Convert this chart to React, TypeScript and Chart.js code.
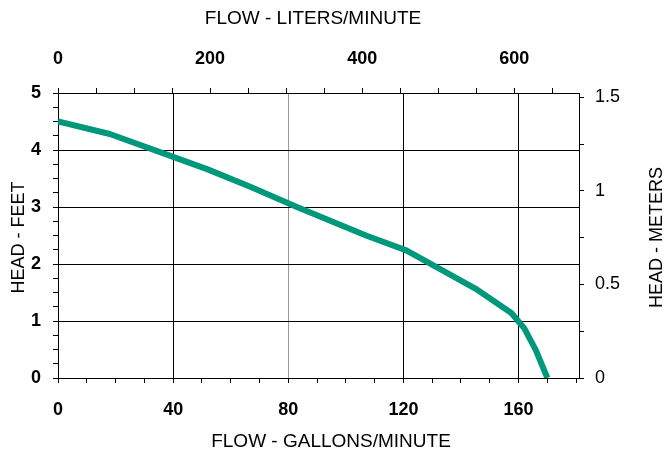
import React, { useEffect, useRef } from "react";
import { Chart, registerables } from "chart.js";

Chart.register(...registerables);

// Pump curve data (flow in US gallons per minute, head in feet)
const flowGpm = [0, 18, 40, 52, 67, 83, 107, 121, 145, 157.5, 162, 166, 170];
const headFt = [4.5, 4.28, 3.88, 3.66, 3.35, 3.0, 2.5, 2.24, 1.57, 1.14, 0.87, 0.49, 0];

const gpmMax = 181;
const feetMax = 5;
const litersPerGallon = 3.78541;
const metersPerFoot = 0.3048;

const bottomTitle = "FLOW - GALLONS/MINUTE";
const topTitle = "FLOW - LITERS/MINUTE";
const leftTitle = "HEAD - FEET";
const rightTitle = "HEAD - METERS";

const FONT = "'Liberation Sans', Arial, sans-serif";

const titlePlugin = {
  id: "axisTitles",
  afterDraw(chart: any) {
    const { ctx, chartArea } = chart;
    const midY = (chartArea.top + chartArea.bottom) / 2;
    ctx.save();
    ctx.fillStyle = "#000";
    ctx.textAlign = "center";
    ctx.textBaseline = "middle";
    ctx.font = `19px ${FONT}`;
    ctx.fillText(topTitle, 313, 18.5);
    ctx.fillText(bottomTitle, 331, 441.5);
    ctx.font = `18px ${FONT}`;
    ctx.save();
    ctx.translate(19, midY + 2);
    ctx.rotate(-Math.PI / 2);
    ctx.fillText(leftTitle, 0, 0);
    ctx.restore();
    ctx.save();
    ctx.translate(657, midY + 2);
    ctx.rotate(-Math.PI / 2);
    ctx.fillText(rightTitle, 0, 0);
    ctx.restore();
    ctx.restore();
  },
};

export default function App() {
  const ref = useRef<HTMLCanvasElement | null>(null);

  useEffect(() => {
    if (!ref.current) return;
    const points = flowGpm.map((x, i) => ({ x, y: headFt[i] }));
    const boldTick = { family: FONT, size: 18, weight: "bold" as const };
    const chart = new Chart(ref.current, {
      type: "line",
      data: {
        datasets: [
          {
            data: points,
            borderColor: "#00987a",
            borderWidth: 6,
            pointRadius: 0,
            tension: 0,
            borderJoinStyle: "round",
            xAxisID: "x",
            yAxisID: "y",
          },
        ],
      },
      options: {
        animation: false,
        responsive: false,
        events: [],
        layout: { padding: 0 },
        plugins: {
          legend: { display: false },
          tooltip: { enabled: false },
        },
        scales: {
          x: {
            type: "linear",
            position: "bottom",
            min: 0,
            max: gpmMax,
            afterFit: (s: any) => {
              s.height = 74;
            },
            border: { display: true, color: "#000", width: 1 },
            grid: {
              color: (c: any) => {
                const v = c.tick?.value;
                if (v === 80) return "#9a9a9a";
                return v % 40 === 0 ? "#000" : "rgba(0,0,0,0)";
              },
              tickColor: "#000",
              tickLength: 5,
              lineWidth: 1,
            },
            ticks: {
              stepSize: 10,
              includeBounds: false,
              autoSkip: false,
              maxRotation: 0,
              padding: 16,
              color: "#000",
              font: boldTick,
              callback: (v: any) => (Number(v) % 40 === 0 ? String(v) : ""),
            },
          },
          x2: {
            type: "linear",
            position: "top",
            min: 0,
            max: gpmMax * litersPerGallon,
            afterFit: (s: any) => {
              s.height = 93;
            },
            border: { display: true, color: "#000", width: 1 },
            grid: {
              drawOnChartArea: false,
              color: "#000",
              tickColor: "#000",
              tickLength: 5,
            },
            ticks: {
              stepSize: 50,
              includeBounds: false,
              autoSkip: false,
              maxRotation: 0,
              padding: 18,
              color: "#000",
              font: boldTick,
              callback: (v: any) => (Number(v) % 200 === 0 ? String(v) : ""),
            },
          },
          y: {
            type: "linear",
            position: "left",
            min: 0,
            max: feetMax,
            afterFit: (s: any) => {
              s.width = 58;
            },
            border: { display: true, color: "#000", width: 1 },
            grid: {
              color: (c: any) =>
                Number.isInteger(c.tick?.value) ? "#000" : "rgba(0,0,0,0)",
              tickColor: "#000",
              tickLength: 5,
            },
            ticks: {
              stepSize: 0.25,
              autoSkip: false,
              padding: 12,
              color: "#000",
              font: boldTick,
              callback: (v: any) => (Number.isInteger(Number(v)) ? String(v) : ""),
            },
          },
          y2: {
            type: "linear",
            position: "right",
            min: 0,
            max: feetMax * metersPerFoot,
            afterFit: (s: any) => {
              s.width = 88;
            },
            border: { display: true, color: "#000", width: 1 },
            grid: {
              drawOnChartArea: false,
              color: "#000",
              tickColor: "#000",
              tickLength: 5,
            },
            ticks: {
              stepSize: 0.25,
              includeBounds: false,
              autoSkip: false,
              padding: 11,
              color: "#000",
              font: { family: FONT, size: 18 },
              callback: (v: any) => {
                const n = Math.round(Number(v) * 100) / 100;
                return Math.abs((n * 2) % 1) < 1e-9 ? String(n) : "";
              },
            },
          },
        },
      },
      plugins: [titlePlugin],
    });
    return () => chart.destroy();
  }, []);

  return (
    <div style={{ position: "fixed", left: 0, top: 0, width: 667, height: 452, background: "#fff" }}>
      <canvas ref={ref} width={667} height={452} style={{ display: "block" }} />
    </div>
  );
}
